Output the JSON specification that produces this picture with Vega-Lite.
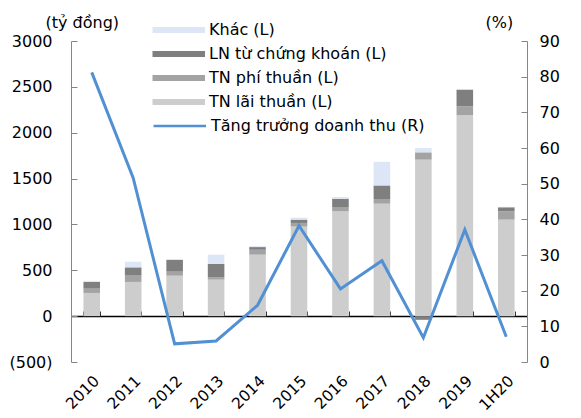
{
  "$schema": "https://vega.github.io/schema/vega-lite/v6.json",
  "width": 456,
  "height": 321,
  "autosize": {"type": "none"},
  "padding": {"left": 71, "top": 41, "right": 54, "bottom": 56},
  "background": "white",
  "config": {
    "font": "DejaVu Sans",
    "view": {"stroke": null},
    "axis": {"labelFont": "DejaVu Sans", "labelFontSize": 16, "labelColor": "#000", "titleFont": "DejaVu Sans", "titleFontSize": 16, "titleFontWeight": "normal", "titleColor": "#000", "grid": false},
    "legend": {"labelFont": "DejaVu Sans", "labelFontSize": 16, "labelColor": "#000", "padding": 0, "labelLimit": 400}
  },
  "datasets": {
    "bars": [
      {"year": "2010", "series": "TN lãi thuần (L)", "value": 253},
      {"year": "2010", "series": "TN phí thuần (L)", "value": 47},
      {"year": "2010", "series": "LN từ chứng khoán (L)", "value": 73},
      {"year": "2010", "series": "Khác (L)", "value": 12},
      {"year": "2011", "series": "TN lãi thuần (L)", "value": 373},
      {"year": "2011", "series": "TN phí thuần (L)", "value": 69},
      {"year": "2011", "series": "LN từ chứng khoán (L)", "value": 90},
      {"year": "2011", "series": "Khác (L)", "value": 62},
      {"year": "2012", "series": "TN lãi thuần (L)", "value": 441},
      {"year": "2012", "series": "TN phí thuần (L)", "value": 44},
      {"year": "2012", "series": "LN từ chứng khoán (L)", "value": 128},
      {"year": "2012", "series": "Khác (L)", "value": 11},
      {"year": "2013", "series": "TN lãi thuần (L)", "value": 398},
      {"year": "2013", "series": "TN phí thuần (L)", "value": 25},
      {"year": "2013", "series": "LN từ chứng khoán (L)", "value": 146},
      {"year": "2013", "series": "Khác (L)", "value": 101},
      {"year": "2014", "series": "TN lãi thuần (L)", "value": 670},
      {"year": "2014", "series": "TN phí thuần (L)", "value": 54},
      {"year": "2014", "series": "LN từ chứng khoán (L)", "value": 29},
      {"year": "2014", "series": "Khác (L)", "value": 10},
      {"year": "2015", "series": "TN lãi thuần (L)", "value": 976},
      {"year": "2015", "series": "TN phí thuần (L)", "value": 40},
      {"year": "2015", "series": "LN từ chứng khoán (L)", "value": 36},
      {"year": "2015", "series": "Khác (L)", "value": 22},
      {"year": "2016", "series": "TN lãi thuần (L)", "value": 1142},
      {"year": "2016", "series": "TN phí thuần (L)", "value": 48},
      {"year": "2016", "series": "LN từ chứng khoán (L)", "value": 90},
      {"year": "2016", "series": "Khác (L)", "value": 18},
      {"year": "2017", "series": "TN lãi thuần (L)", "value": 1226},
      {"year": "2017", "series": "TN phí thuần (L)", "value": 51},
      {"year": "2017", "series": "LN từ chứng khoán (L)", "value": 148},
      {"year": "2017", "series": "Khác (L)", "value": 258},
      {"year": "2018", "series": "TN lãi thuần (L)", "value": 1706},
      {"year": "2018", "series": "TN phí thuần (L)", "value": 80},
      {"year": "2018", "series": "LN từ chứng khoán (L)", "value": -40},
      {"year": "2018", "series": "Khác (L)", "value": 48},
      {"year": "2019", "series": "TN lãi thuần (L)", "value": 2189},
      {"year": "2019", "series": "TN phí thuần (L)", "value": 98},
      {"year": "2019", "series": "LN từ chứng khoán (L)", "value": 182},
      {"year": "2019", "series": "Khác (L)", "value": 3},
      {"year": "1H20", "series": "TN lãi thuần (L)", "value": 1052},
      {"year": "1H20", "series": "TN phí thuần (L)", "value": 91},
      {"year": "1H20", "series": "LN từ chứng khoán (L)", "value": 44},
      {"year": "1H20", "series": "Khác (L)", "value": 5}
    ],
    "growth": [
      {"year": "2010", "growth": 81.2},
      {"year": "2011", "growth": 51.6},
      {"year": "2012", "growth": 5.1},
      {"year": "2013", "growth": 5.9},
      {"year": "2014", "growth": 15.9},
      {"year": "2015", "growth": 38.2},
      {"year": "2016", "growth": 20.5},
      {"year": "2017", "growth": 28.4},
      {"year": "2018", "growth": 6.8},
      {"year": "2019", "growth": 37.1},
      {"year": "1H20", "growth": 7.1}
    ]
  },
  "layer": [
    {
      "data": {"name": "bars"},
      "transform": [
        {"calculate": "indexof(['TN lãi thuần (L)', 'TN phí thuần (L)', 'LN từ chứng khoán (L)', 'Khác (L)'], datum.series)", "as": "stackOrder"}
      ],
      "mark": {"type": "bar"},
      "encoding": {
        "x": {
          "field": "year", "type": "nominal", "sort": null,
          "scale": {"paddingInner": 0.6, "paddingOuter": 0.3},
          "axis": {"orient": "bottom", "domain": false, "ticks": false, "labelAngle": -45, "labelAlign": "right", "labelBaseline": "top", "labelPadding": 11, "labelFontSize": 15.5, "title": null}
        },
        "y": {
          "field": "value", "type": "quantitative", "stack": "zero",
          "scale": {"domain": [-500, 3000], "nice": false, "zero": false},
          "axis": {
            "orient": "left",
            "values": [-500, 0, 500, 1000, 1500, 2000, 2500, 3000],
            "labelExpr": "datum.value < 0 ? '(' + (-datum.value) + ')' : '' + datum.value",
            "domainColor": "#868686", "tickColor": "#868686", "tickSize": -6, "labelPadding": 25,
            "title": "(tỷ đồng)", "titleAngle": 0, "titleAlign": "left", "titleBaseline": "middle", "titleX": -26, "titleY": -19
          }
        },
        "color": {
          "field": "series", "type": "nominal",
          "scale": {
            "domain": ["Khác (L)", "LN từ chứng khoán (L)", "TN phí thuần (L)", "TN lãi thuần (L)"],
            "range": ["#dde6f6", "#7f7f7f", "#a3a3a3", "#cdcdcd"]
          },
          "legend": {
            "orient": "none", "legendX": 81, "legendY": -19, "title": null,
            "symbolType": "M-1,-0.4L6,-0.4L6,0.4L-1,0.4Z", "symbolSize": 225, "symbolStrokeWidth": 0,
            "labelOffset": 41, "rowPadding": 8
          }
        },
        "order": {"field": "stackOrder", "type": "quantitative", "sort": "ascending"}
      }
    },
    {
      "data": {"name": "growth"},
      "mark": {"type": "line", "strokeWidth": 3},
      "encoding": {
        "x": {
          "field": "year", "type": "nominal", "sort": null,
          "axis": {"orient": "bottom", "offset": -46, "labels": false, "title": null, "domainColor": "#000", "domainWidth": 1.5, "tickColor": "#333", "tickSize": -5}
        },
        "y": {
          "field": "growth", "type": "quantitative",
          "scale": {"domain": [0, 90], "nice": false},
          "axis": {
            "orient": "right",
            "values": [0, 10, 20, 30, 40, 50, 60, 70, 80, 90],
            "domainColor": "#868686", "tickColor": "#868686", "tickSize": -6, "labelPadding": 18,
            "title": "(%)", "titleAngle": 0, "titleAlign": "left", "titleBaseline": "middle", "titleX": -42, "titleY": -19
          }
        },
        "stroke": {
          "datum": "Tăng trưởng doanh thu (R)", "type": "nominal",
          "scale": {"range": ["#5090d3"]},
          "legend": {
            "orient": "none", "legendX": 81, "legendY": 76, "title": null,
            "symbolType": "M-1,0L6,0", "symbolSize": 225, "symbolStrokeWidth": 2.5,
            "labelOffset": 41
          }
        }
      }
    },
    {
      "data": {"name": "growth"},
      "mark": {"type": "tick", "opacity": 0},
      "encoding": {
        "x": {
          "field": "year", "type": "nominal", "sort": null,
          "axis": {"orient": "bottom", "offset": -46, "domain": false, "labels": false, "title": null, "tickBand": "extent", "tickColor": "#333", "tickSize": -5}
        }
      }
    }
  ],
  "resolve": {"scale": {"y": "independent"}, "axis": {"x": "independent"}}
}
